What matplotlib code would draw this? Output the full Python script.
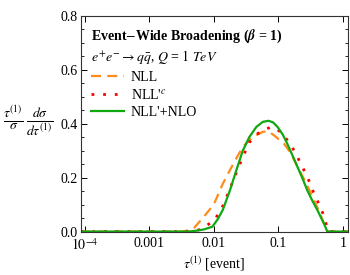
import matplotlib
matplotlib.use("Agg")
import matplotlib.pyplot as plt
import numpy as np
from matplotlib.ticker import FixedLocator, MultipleLocator, FormatStrFormatter

# --- data (log10 tau, value) ---
nll_logt = [-4.06, -2.50, -2.42, -2.31, -2.16, -2.00, -1.86, -1.70, -1.55,
            -1.40, -1.24, -1.15, -1.06, -0.91, -0.80, -0.70, -0.59, -0.44,
            -0.29, -0.24, 0.08]
nll_val = [0.0, 0.0, 0.003, 0.012, 0.053, 0.100, 0.177, 0.250, 0.314,
           0.350, 0.370, 0.372, 0.356, 0.326, 0.289, 0.240, 0.190, 0.115,
           0.030, 0.0, 0.0]

nllc_logt = [-4.06, -2.35, -2.20, -2.00, -1.89, -1.78, -1.68, -1.57, -1.45,
             -1.34, -1.24, -1.12, -1.05, -0.94, -0.83, -0.74, -0.66, -0.58,
             -0.51, -0.45, -0.37, -0.30, -0.25, -0.22, 0.08]
nllc_val = [0.0, 0.0, 0.008, 0.040, 0.078, 0.140, 0.200, 0.265, 0.330,
            0.360, 0.375, 0.387, 0.385, 0.364, 0.330, 0.295, 0.256, 0.218,
            0.181, 0.143, 0.103, 0.063, 0.022, 0.0, 0.0]

nlo_logt = [-4.06, -2.40, -2.30, -2.15, -2.02, -1.94, -1.86, -1.75, -1.65,
            -1.55, -1.45, -1.34, -1.24, -1.15, -1.08, -1.01, -0.93, -0.86,
            -0.78, -0.70, -0.62, -0.55, -0.47, -0.39, -0.29, -0.24, 0.08]
nlo_val = [0.0, 0.0, 0.002, 0.008, 0.018, 0.045, 0.080, 0.152, 0.227,
           0.300, 0.350, 0.388, 0.407, 0.411, 0.405, 0.388, 0.360, 0.326,
           0.283, 0.239, 0.195, 0.153, 0.114, 0.078, 0.029, 0.0, 0.0]

xticks = [1e-4, 1e-3, 1e-2, 1e-1, 1.0]
xticklabels = [r"$10^{-4}$", "0.001", "0.01", "0.1", "1"]

plt.rcParams["font.family"] = ["Liberation Serif", "DejaVu Serif"]
plt.rcParams["mathtext.fontset"] = "stix"

fig = plt.figure(figsize=(3.5, 2.75), dpi=100)
ax = fig.add_axes([0.231, 0.158, 0.763, 0.784])

ax.plot(10 ** np.array(nll_logt), nll_val, color="#ff8c1a", lw=1.6,
        dashes=(4.5, 2.8), label="NLL")
ax.plot(10 ** np.array(nllc_logt), nllc_val, color="#ff0000", lw=2.0,
        dashes=(1.0, 3.2), label=r"NLL$'^{c}$")
ax.plot(10 ** np.array(nlo_logt), nlo_val, color="#10a810", lw=1.6,
        label="NLL'+NLO")

ax.set_xscale("log")
ax.set_xlim(10 ** -4.06, 10 ** 0.08)
ax.set_ylim(0, 0.8)
ax.xaxis.set_major_locator(FixedLocator(xticks))
ax.xaxis.set_minor_locator(FixedLocator([]))
ax.set_xticklabels(xticklabels)
ax.yaxis.set_major_locator(MultipleLocator(0.2))
ax.yaxis.set_minor_locator(MultipleLocator(0.05))
ax.yaxis.set_major_formatter(FormatStrFormatter("%.1f"))
ax.tick_params(which="both", direction="in", top=True, right=True,
               labelsize=10, pad=2)
ax.tick_params(axis="x", which="major", pad=4)
ax.tick_params(which="major", length=4, width=0.7)
ax.tick_params(which="minor", length=2, width=0.6)
for s in ax.spines.values():
    s.set_linewidth(0.8)
    s.set_color("#333333")

ax.set_xlabel(r"$\tau^{(1)}$ [event]", fontsize=10, labelpad=1)
fig.text(0.008, 0.56,
         r"$\frac{\tau^{(1)}}{\sigma}\,\frac{d\sigma}{d\tau^{(1)}}$",
         fontsize=14, va="center", ha="left")

ax.text(0.038, 0.905, r"Event$-$Wide Broadening ($\boldsymbol{\beta}$ = 1)",
        transform=ax.transAxes, fontsize=10, fontweight="bold", va="center")
ax.text(0.038, 0.81,
        r"$e^{+}e^{-}\rightarrow q\bar{q}$, $Q$ = $\mathit{1\ TeV}$",
        transform=ax.transAxes, fontsize=10, va="center")

ax.legend(loc="upper left", bbox_to_anchor=(0.0, 0.79), frameon=False,
          fontsize=10, handlelength=2.4, handletextpad=0.5,
          labelspacing=0.3, borderaxespad=0.3)

fig.savefig("out.png", dpi=100)
